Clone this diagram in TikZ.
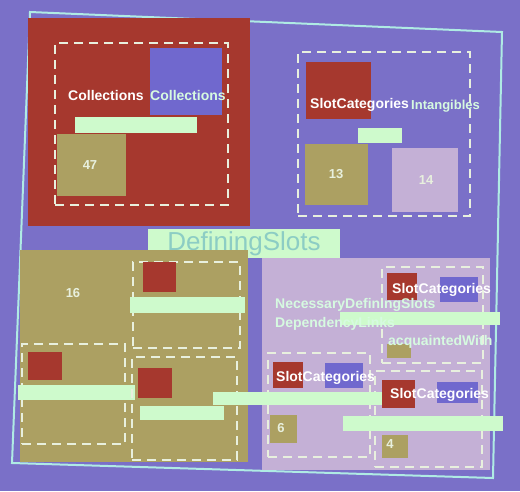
\documentclass[tikz,border=0pt]{standalone}
\usepackage{fontspec}
\setmainfont{Liberation Sans}
\usepackage{tikz}
\definecolor{screen}{RGB}{122,112,200}
\definecolor{frameline}{RGB}{175,235,228}
\definecolor{brick}{RGB}{166,56,46}
\definecolor{olive}{RGB}{172,160,98}
\definecolor{lilac}{RGB}{196,176,214}
\definecolor{deepblue}{RGB}{112,104,206}
\definecolor{tagfill}{RGB}{206,250,204}
\definecolor{wordcol}{RGB}{214,250,224}
\definecolor{dashcol}{RGB}{232,240,222}
\definecolor{titlecol}{RGB}{140,205,196}

\begin{document}
\begin{tikzpicture}[x=1pt,y=-1pt]
\tikzstyle{area}=[rectangle,inner sep=0pt]
\tikzstyle{cluster}=[rectangle,draw=dashcol,dash pattern=on 9pt off 6pt,line width=2pt,inner sep=0pt]
\tikzstyle{tagbar}=[rectangle,fill=tagfill,inner sep=0pt]
\tikzstyle{word}=[anchor=west,inner sep=0pt,text=wordcol,font=\bfseries\fontsize{14}{14}\selectfont]
\tikzstyle{tally}=[inner sep=0pt,text=dashcol,font=\bfseries\fontsize{13}{13}\selectfont]
 \fill[screen] (0,0) rectangle (520,491);
 \useasboundingbox (0,0) rectangle (520,491);
 % screen frame
 \coordinate (ftl) at (30,12);
 \coordinate (ftr) at (502,32);
 \coordinate (fbr) at (493,478);
 \coordinate (fbl) at (12,463);
 \draw[frameline,line width=2pt] (ftl) -- (ftr) -- (fbr) -- (fbl) -- cycle;

 % Collections
 \node[area,fill=brick,minimum width=222,minimum height=208] (coll) at (139,122) {};
 \node[area,fill=deepblue,minimum width=72,minimum height=67] (collb) at (186,81.5) {};
 \node[cluster,minimum width=173,minimum height=162] (collg) at (141.5,124) {};
 \node[word,text=white] (colla) at (68,95) {Collections};
 \node[word] (collc) at (150,95) {Collections};
 \node[tagbar,minimum width=122,minimum height=16] (colltag) at (136,125) {};
 \node[area,fill=olive,minimum width=69,minimum height=62] (c47) at (91.5,165) {};
 \node[tally] at (90,165) {47};

 % Intangibles
 \node[cluster,minimum width=172,minimum height=164] (intg) at (384,134) {};
 \node[area,fill=brick,minimum width=65,minimum height=57] (intr) at (338.5,90.5) {};
 \node[word,text=white] (intsc) at (310,105) {SlotCategories};
 \node[word,font=\bfseries\fontsize{13}{13}\selectfont] (intl) at (411,106) {Intangibles};
 \node[tagbar,minimum width=44,minimum height=15] (inttag) at (380,135.5) {};
 \node[area,fill=olive,minimum width=63,minimum height=61] (c13) at (336.5,174.5) {};
 \node[tally] at (336,174) {13};
 \node[area,fill=lilac,minimum width=66,minimum height=64] (c14) at (425,180) {};
 \node[tally] at (426,180) {14};

 % DefiningSlots
 \node[tagbar,minimum width=192,minimum height=29] (deftag) at (244,243.5) {};
 \node[inner sep=0pt,text=titlecol,font=\fontsize{26}{26}\selectfont] (def) at (deftag) {DefiningSlots};

 % left half
 \node[area,fill=olive,minimum width=228,minimum height=212] (left) at (134,356) {};
 \node[tally] at (73,293) {16};
 \node[cluster,minimum width=107,minimum height=86] (lg1) at (186.5,305) {};
 \node[area,fill=brick,minimum width=33,minimum height=30] (lr1) at (159.5,277) {};
 \node[tagbar,minimum width=115,minimum height=16] (lt1) at (187.5,305) {};
 \node[cluster,minimum width=103,minimum height=100] (lg2) at (73.5,394) {};
 \node[area,fill=brick,minimum width=34,minimum height=28] (lr2) at (45,366) {};
 \node[tagbar,minimum width=117,minimum height=15] (lt2) at (76.5,392.5) {};
 \node[cluster,minimum width=105,minimum height=103] (lg3) at (184.5,408.5) {};
 \node[area,fill=brick,minimum width=34,minimum height=30] (lr3) at (155,383) {};
 \node[tagbar,minimum width=84,minimum height=14] (lt3) at (182,413) {};

 % right half
 \node[area,fill=lilac,minimum width=228,minimum height=212] (right) at (376,364) {};
 \node[cluster,minimum width=101,minimum height=96] (rg1) at (432.5,315) {};
 \node[area,fill=brick,minimum width=30,minimum height=27] (rr1) at (402,286.5) {};
 \node[area,fill=deepblue,minimum width=38,minimum height=25] (rb1) at (459,289) {};
 \node[area,fill=olive,minimum width=24,minimum height=14] (ro1) at (399,351) {};
 \node[tagbar,minimum width=160,minimum height=13] (rt1) at (420,318.5) {};
 \node[word,text=white] (rs1) at (392,290) {SlotCategories};
 \node[word] (nec) at (275,305) {NecessaryDefiningSlots};
 \node[word] (dep) at (275,324) {DependencyLinks};
 \node[word] (acq) at (388,342) {acquaintedWith};

 \node[cluster,minimum width=102,minimum height=104] (rg2) at (319,405) {};
 \node[area,fill=brick,minimum width=30,minimum height=26] (rr2) at (288,375) {};
 \node[area,fill=deepblue,minimum width=38,minimum height=25] (rb2) at (344,375.5) {};
 \node[word,text=white] (rs2) at (276,378) {SlotCategories};
 \node[area,fill=olive,minimum width=27,minimum height=28] (c6) at (283.5,429) {};
 \node[tally] at (281,428) {6};

 \node[cluster,minimum width=107,minimum height=96] (rg3) at (428.5,419) {};
 \node[area,fill=brick,minimum width=33,minimum height=28] (rr3) at (398.5,394) {};
 \node[area,fill=deepblue,minimum width=41,minimum height=21] (rb3) at (457.5,392.5) {};
 \node[word,text=white] (rs3) at (390,395) {SlotCategories};
 \node[area,fill=olive,minimum width=26,minimum height=23] (c4) at (395,446.5) {};
 \node[tally] at (390,444) {4};

 % long tags across the halves
 \node[tagbar,minimum width=169,minimum height=13] (lt4) at (297.5,398.5) {};
 \node[tagbar,minimum width=160,minimum height=15] (rt2) at (423,423.5) {};

\end{tikzpicture}
\end{document}
